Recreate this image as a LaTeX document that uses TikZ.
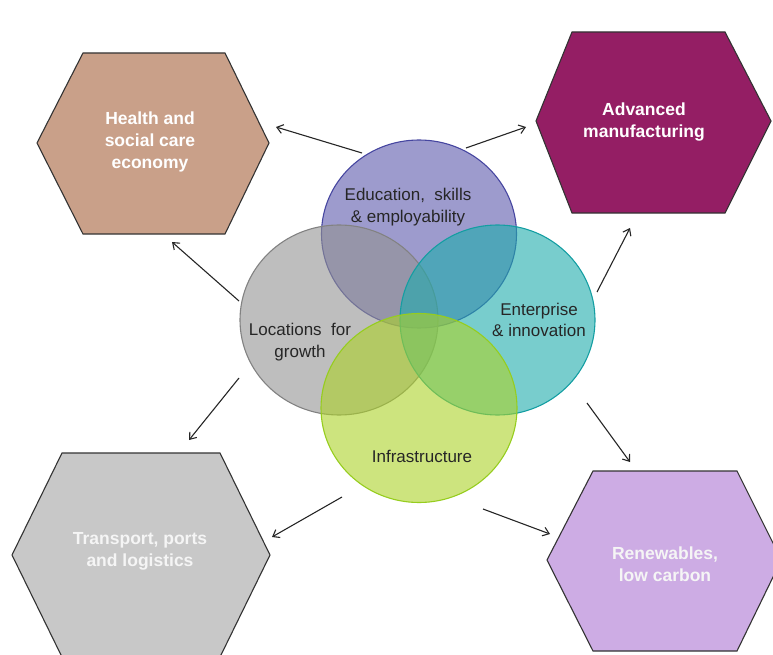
\documentclass[tikz,border=0pt]{standalone}
\usepackage{fontspec}
\setmainfont{Liberation Sans}
\usetikzlibrary{arrows.meta}
\definecolor{healthc}{RGB}{201,160,137}
\definecolor{advc}{RGB}{148,30,100}
\definecolor{transc}{RGB}{200,200,200}
\definecolor{renewc}{RGB}{205,172,228}
\definecolor{educ}{RGB}{92,88,172}
\definecolor{educe}{RGB}{70,70,160}
\definecolor{entc}{RGB}{30,172,172}
\definecolor{ente}{RGB}{20,158,162}
\definecolor{locc}{RGB}{146,146,146}
\definecolor{loce}{RGB}{130,130,130}
\definecolor{infc}{RGB}{172,210,40}
\definecolor{infe}{RGB}{150,205,30}
\tikzset{
  hexbox/.style={draw=black!80, line width=1.1pt},
  hextext/.style={text=white, font=\bfseries\fontsize{17.5}{22}\selectfont, align=center},
  circtext/.style={text=black!85, font=\fontsize{17}{21.5}\selectfont, align=center},
  venn/.style={line width=1.1pt, fill opacity=0.6},
  conn/.style={draw=black!85, line width=1.1pt, -{Straight Barb[length=6pt,width=9pt,line width=1.1pt]}}
}
\begin{document}
\begin{tikzpicture}[x=1pt,y=-1pt]
\useasboundingbox (0,0) rectangle (773,655);
% hexagons
\draw[hexbox, fill=healthc] (37,143) -- (83,53) -- (225,53) -- (269,143) -- (225,234) -- (83,234) -- cycle;
\draw[hexbox, fill=advc] (536,121) -- (572,32) -- (725,32) -- (771,121) -- (725,213) -- (572,213) -- cycle;
\draw[hexbox, fill=transc] (12,555) -- (62,453) -- (220,453) -- (270,555) -- (220,657) -- (62,657) -- cycle;
\draw[hexbox, fill=renewc] (547,560) -- (593,471) -- (737,471) -- (774,545) -- (774,575) -- (737,651) -- (593,651) -- cycle;
\node[hextext] (health) at (150,142) {Health and\\social care\\economy};
\node[hextext] (adv) at (644,122) {Advanced\\manufacturing};
\node[hextext, text=white!96!black] (trans) at (140,551) {Transport, ports\\and logistics};
\node[hextext, text=white!96!black] (renew) at (665,564) {Renewables,\\low carbon};
% venn circles
\draw[venn, draw=educe, fill=educ] (419,234) ellipse [x radius=97.5, y radius=94];
\draw[venn, draw=loce, fill=locc] (339,320) ellipse [x radius=99, y radius=95];
\draw[venn, draw=ente, fill=entc] (497.5,320) ellipse [x radius=97.5, y radius=95];
\draw[venn, draw=infe, fill=infc] (419,408) ellipse [x radius=98, y radius=94.5];
\node[circtext] (edu) at (408,207) {Education,\ \ skills\\\& employability};
\node[circtext] (ent) at (539,320) {Enterprise\\\& innovation};
\node[circtext] (loc) at (300,342) {Locations\ \ for\\growth};
\node[circtext] (inf) at (422,456) {Infrastructure};
% connector ends
\coordinate (a1s) at (362,153); \coordinate (a1e) at (276,127);
\coordinate (a2s) at (466,148); \coordinate (a2e) at (526,127);
\coordinate (a3s) at (239,301); \coordinate (a3e) at (172,242);
\coordinate (a4s) at (597,292); \coordinate (a4e) at (630,228);
\coordinate (a5s) at (239,378); \coordinate (a5e) at (189,440);
\coordinate (a6s) at (587,403); \coordinate (a6e) at (630,462);
\coordinate (a7s) at (342,497); \coordinate (a7e) at (272,537);
\coordinate (a8s) at (483,509); \coordinate (a8e) at (550,534);
\foreach \i in {1,...,8} {\draw[conn] (a\i s) -- (a\i e);}
\end{tikzpicture}
\end{document}
